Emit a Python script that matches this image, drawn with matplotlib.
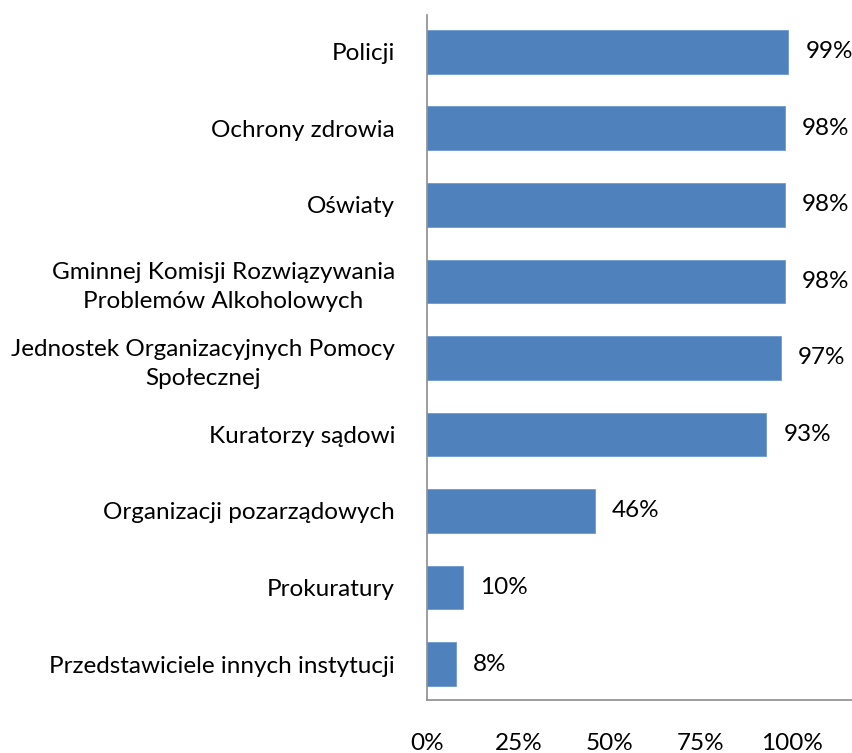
import matplotlib
matplotlib.use("Agg")
import matplotlib.pyplot as plt
from matplotlib.ticker import PercentFormatter

categories = [
    "Policji",
    "Ochrony zdrowia",
    "Oświaty",
    "Gminnej Komisji Rozwiązywania\nProblemów Alkoholowych",
    "Jednostek Organizacyjnych Pomocy\nSpołecznej",
    "Kuratorzy sądowi",
    "Organizacji pozarządowych",
    "Prokuratury",
    "Przedstawiciele innych instytucji",
]
values = [0.99, 0.98, 0.98, 0.98, 0.97, 0.93, 0.46, 0.10, 0.08]
value_labels = ["99%", "98%", "98%", "98%", "97%", "93%", "46%", "10%", "8%"]
xticks = [0, 0.25, 0.5, 0.75, 1.0]

plt.rcParams['font.family'] = ['Lato', 'DejaVu Sans']
FS = 17.5

W, H = 852, 753
fig = plt.figure(figsize=(W/100, H/100), dpi=100)
left, right, top, bottom = 427, 852, 15, 700
ax = fig.add_axes([left/W, 1 - bottom/H, (right-left)/W, (bottom-top)/H])

ypos = list(range(len(categories)))
ax.barh(ypos, values, height=0.57, color="#4F81BD", edgecolor="#6F9AD0", linewidth=0.6, zorder=2)
for y, v, lab in zip(ypos, values, value_labels):
    ax.annotate(lab, (v, y), xytext=(17, 0), textcoords="offset pixels",
                va="center", ha="left", fontsize=FS, color="#000000")

ax.set_xlim(0, (right-left)/365)
ax.set_ylim(8.47, -0.48)
ax.set_yticks(ypos)
ax.set_yticklabels(categories, fontsize=FS, multialignment="center", linespacing=1.45)
ax.set_xticks(xticks)
ax.xaxis.set_major_formatter(PercentFormatter(1.0, decimals=0))
ax.tick_params(axis="x", length=0, pad=24, labelsize=FS)
ax.tick_params(axis="y", length=0, pad=23)
for s in ["top", "right"]:
    ax.spines[s].set_visible(False)
for s in ["left", "bottom"]:
    ax.spines[s].set_color("#8C8C8C")
    ax.spines[s].set_linewidth(1.2)

fig.savefig("out.png", dpi=100)
